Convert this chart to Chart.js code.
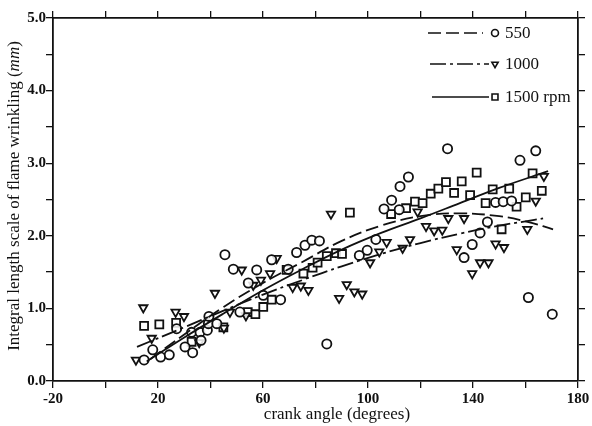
<!DOCTYPE html>
<html>
<head>
<meta charset="utf-8">
<script src="https://cdn.jsdelivr.net/npm/chart.js@4.4.1/dist/chart.umd.min.js"></script>
<style>
  html, body { margin: 0; padding: 0; background: #fff; }
  #wrap { position: relative; width: 592px; height: 426px; }
</style>
</head>
<body>
<div id="wrap"><canvas id="chart"></canvas></div>
<script>
// Measured points: crank angle (deg) and integral length scale (mm)
const rpm550X = [14.7, 18.0, 21.0, 24.3, 30.3, 33.2, 27.1, 32.8, 36.0, 36.4, 38.8, 39.2, 39.4, 42.4, 45.5, 48.7,
  57.6, 54.4, 51.2, 60.1, 63.3, 66.7, 69.6, 72.8, 76.0, 78.6, 81.5, 84.3, 96.7, 99.7, 103.0, 106.1, 109.0, 111.9,
  112.2, 115.4, 130.3, 136.6, 139.7, 142.7, 145.5, 148.6, 151.5, 154.7, 157.9, 161.1, 163.9, 170.2];
const rpm550Y = [0.29, 0.43, 0.33, 0.36, 0.47, 0.39, 0.72, 0.67, 0.67, 0.56, 0.70, 0.79, 0.89, 0.79, 1.74, 1.54,
  1.53, 1.35, 0.95, 1.18, 1.67, 1.12, 1.54, 1.77, 1.87, 1.94, 1.93, 0.51, 1.73, 1.80, 1.95, 2.37, 2.49, 2.36,
  2.68, 2.81, 3.20, 1.70, 1.88, 2.04, 2.19, 2.46, 2.47, 2.48, 3.04, 1.15, 3.17, 0.92];

const rpm1000X = [11.6, 14.4, 17.6, 26.7, 29.9, 35.7, 41.7, 45.1, 47.4, 51.9, 53.5, 56.3, 59.2, 62.7, 65.2, 71.3,
  74.4, 77.3, 85.9, 89.0, 91.9, 94.8, 97.8, 100.8, 104.3, 107.1, 113.2, 116.0, 118.9, 122.1, 125.2, 128.3, 130.6,
  133.8, 136.6, 139.7, 142.7, 145.9, 148.6, 151.8, 160.7, 163.9, 167.0];
const rpm1000Y = [0.29, 1.01, 0.59, 0.95, 0.89, 0.53, 1.21, 0.73, 0.95, 1.53, 0.90, 1.32, 1.39, 1.48, 1.69, 1.29,
  1.31, 1.25, 2.30, 1.14, 1.33, 1.23, 1.20, 1.63, 1.78, 1.91, 1.83, 1.95, 2.33, 2.13, 2.07, 2.08, 2.24,
  1.81, 2.24, 1.48, 1.63, 1.63, 1.89, 1.84, 2.09, 2.48, 2.82];

const rpm1500X = [14.7, 20.5, 26.9, 32.8, 44.9, 54.2, 57.1, 60.1, 63.3, 69.0, 75.4, 78.9, 80.8, 84.3, 87.8, 90.1,
  93.1, 108.8, 114.5, 117.9, 120.8, 123.9, 126.8, 129.7, 132.8, 135.7, 138.9, 141.4, 144.8, 147.5, 150.9, 153.8,
  156.6, 160.1, 162.7, 166.2];
const rpm1500Y = [0.76, 0.78, 0.80, 0.54, 0.74, 0.95, 0.92, 1.02, 1.12, 1.53, 1.48, 1.56, 1.63, 1.72, 1.76, 1.75,
  2.32, 2.30, 2.38, 2.47, 2.45, 2.58, 2.65, 2.74, 2.59, 2.75, 2.56, 2.87, 2.45, 2.64, 2.09, 2.65,
  2.40, 2.53, 2.86, 2.62];

// Fitted curves
const fit550X = [17, 30, 45, 60, 75, 90, 105, 120, 135, 150, 160, 170.5];
const fit550Y = [0.30, 0.64, 1.02, 1.35, 1.64, 1.93, 2.14, 2.27, 2.31, 2.27, 2.20, 2.09];
const fit1000X = [12, 30, 45, 60, 75, 90, 105, 120, 135, 150, 160, 166.7];
const fit1000Y = [0.47, 0.74, 0.97, 1.19, 1.39, 1.58, 1.75, 1.90, 2.03, 2.14, 2.20, 2.24];
const fit1500X = [15.7, 30, 45, 60, 75, 90, 105, 120, 135, 150, 168.6];
const fit1500Y = [0.27, 0.60, 0.93, 1.25, 1.54, 1.81, 2.04, 2.24, 2.45, 2.66, 2.89];

const legendLabels = ['550', '1000', '1500 rpm'];

const pts = (xs, ys) => xs.map((x, i) => ({ x: x, y: ys[i] }));

const SERIF = '"Liberation Serif", "DejaVu Serif", serif';
const TITLE_FONT = '17px ' + SERIF;
const DASH_550 = [13, 5];
const DASH_1000 = [16, 4, 3, 4];

const circle = { pointStyle: 'circle', radius: 4.6, rotation: 0 };
const tri = { pointStyle: 'triangle', radius: 4.8, rotation: 180 };
const square = { pointStyle: 'rect', radius: 5.6, rotation: 0 };

function markerSet(data, m) {
  return {
    data: data,
    showLine: false,
    pointStyle: m.pointStyle,
    pointRadius: m.radius,
    pointRotation: m.rotation,
    pointBorderColor: '#111',
    pointBackgroundColor: 'rgba(255,255,255,0.85)',
    pointBorderWidth: 1.8,
    pointHoverRadius: m.radius
  };
}

function curveSet(data, dash) {
  return {
    data: data,
    showLine: true,
    borderColor: '#111',
    borderWidth: 1.8,
    borderDash: dash,
    pointRadius: 0,
    tension: 0.4,
    fill: false
  };
}

// Axis titles and the key, drawn onto the canvas after the chart
const decorations = {
  id: 'decorations',
  afterDraw(chart) {
    const ctx = chart.ctx;
    ctx.save();
    ctx.fillStyle = '#111';
    ctx.textBaseline = 'middle';

    // x axis title
    ctx.font = TITLE_FONT;
    ctx.textAlign = 'center';
    ctx.fillText('crank angle (degrees)', 337, 415);

    // y axis title, with the unit in italics
    const partA = 'Integral length scale of flame wrinkling (';
    const partB = 'mm';
    const partC = ')';
    ctx.translate(15, 196);
    ctx.rotate(-Math.PI / 2);
    ctx.textAlign = 'left';
    const italic = 'italic ' + TITLE_FONT;
    ctx.font = TITLE_FONT;
    const wA = ctx.measureText(partA).width;
    const wC = ctx.measureText(partC).width;
    ctx.font = italic;
    const wB = ctx.measureText(partB).width;
    let x0 = -(wA + wB + wC) / 2;
    ctx.font = TITLE_FONT;
    ctx.fillText(partA, x0, 0);
    ctx.font = italic;
    ctx.fillText(partB, x0 + wA, 0);
    ctx.font = TITLE_FONT;
    ctx.fillText(partC, x0 + wA + wB, 0);
    ctx.setTransform(1, 0, 0, 1, 0, 0);

    // key
    const rows = [
      { y: 33, x1: 428, x2: 483, dash: DASH_550, m: circle },
      { y: 64, x1: 430, x2: 489, dash: DASH_1000, m: tri },
      { y: 97, x1: 432, x2: 489, dash: [], m: square }
    ];
    rows.forEach((r, i) => {
      ctx.strokeStyle = '#111';
      ctx.lineWidth = 1.6;
      ctx.setLineDash(r.dash);
      ctx.beginPath();
      ctx.moveTo(r.x1, r.y);
      ctx.lineTo(r.x2, r.y);
      ctx.stroke();
      ctx.setLineDash([]);
      ctx.lineWidth = 1.6;
      ctx.fillStyle = '#fff';
      Chart.helpers.drawPoint(ctx, {
        pointStyle: r.m.pointStyle,
        rotation: r.m.rotation,
        radius: r.m.radius * 0.75,
        borderWidth: 1.6
      }, 495, r.y);
      ctx.fillStyle = '#111';
      ctx.font = TITLE_FONT;
      ctx.textAlign = 'left';
      ctx.fillText(legendLabels[i], 505, r.y + 1);
    });
    ctx.restore();
  }
};

const axisBase = {
  type: 'linear',
  grid: { drawOnChartArea: false, color: '#111', lineWidth: 1.3, tickLength: 7 },
  border: { color: '#111', width: 1.8 }
};

new Chart(document.getElementById('chart'), {
  type: 'scatter',
  data: {
    datasets: [
      curveSet(pts(fit550X, fit550Y), DASH_550),
      curveSet(pts(fit1000X, fit1000Y), DASH_1000),
      curveSet(pts(fit1500X, fit1500Y), []),
      markerSet(pts(rpm550X, rpm550Y), circle),
      markerSet(pts(rpm1000X, rpm1000Y), tri),
      markerSet(pts(rpm1500X, rpm1500Y), square)
    ]
  },
  options: {
    responsive: true,
    maintainAspectRatio: false,
    animation: false,
    events: [],
    layout: { padding: 0 },
    plugins: { legend: { display: false }, tooltip: { enabled: false } },
    scales: {
      x: Object.assign({}, axisBase, {
        position: 'bottom',
        min: -20, max: 180,
        afterFit: s => { s.height = 45; },
        ticks: {
          stepSize: 20,
          padding: 2,
          maxRotation: 0,
          autoSkip: false,
          color: '#111',
          font: { family: SERIF, size: 15, weight: 'bold' },
          callback: v => ((v + 20) % 40 === 0 ? String(v) : '')
        }
      }),
      xTop: Object.assign({}, axisBase, {
        position: 'top',
        min: -20, max: 180,
        afterFit: s => { s.height = 18; },
        ticks: { stepSize: 20, display: false }
      }),
      y: Object.assign({}, axisBase, {
        position: 'left',
        min: 0, max: 5,
        afterFit: s => { s.width = 53; },
        ticks: {
          stepSize: 0.5,
          padding: 0,
          autoSkip: false,
          color: '#111',
          font: { family: SERIF, size: 15, weight: 'bold' },
          callback: v => (Number.isInteger(v) ? v.toFixed(1) : '')
        }
      }),
      yRight: Object.assign({}, axisBase, {
        position: 'right',
        min: 0, max: 5,
        afterFit: s => { s.width = 14; },
        ticks: { stepSize: 0.5, display: false }
      })
    }
  },
  plugins: [decorations]
});
</script>
</body>
</html>
